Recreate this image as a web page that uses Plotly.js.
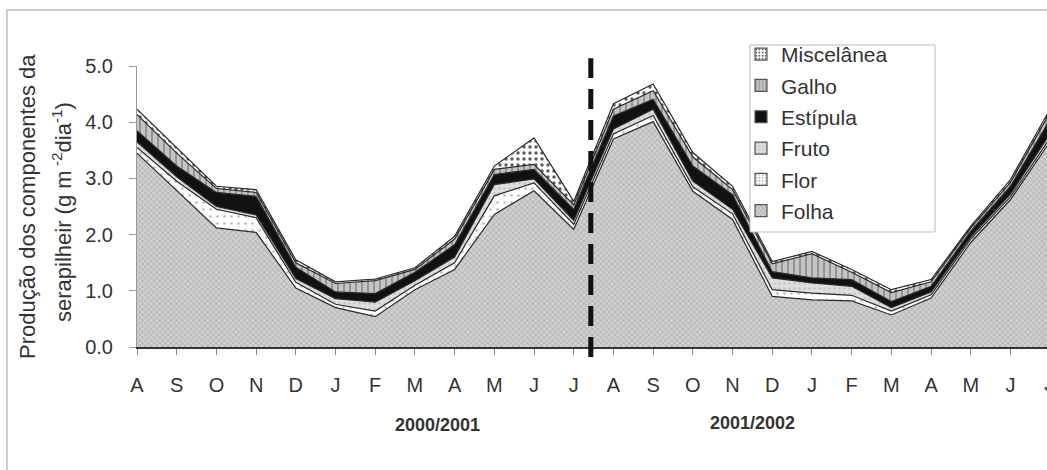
<!DOCTYPE html>
<html>
<head>
<meta charset="utf-8">
<script src="https://cdn.plot.ly/plotly-3.0.1.min.js"></script>
<style>html,body{margin:0;padding:0;background:#fff;}#chart{width:1047px;height:470px;}</style>
</head>
<body>
<div id="chart"></div>
<script>
// Month labels (Aug 2000 .. Jul 2002)
const months = ["A","S","O","N","D","J","F","M","A","M","J","J","A","S","O","N","D","J","F","M","A","M","J","J"];
const xIdx = months.map((m, i) => i);

// Component values (g m-2 dia-1)
const folha    = [3.45,2.78,2.12,2.04,1.05,0.70,0.54,1.02,1.38,2.36,2.78,2.09,3.70,4.01,2.77,2.27,0.90,0.84,0.82,0.57,0.87,1.86,2.62,3.66];
const flor     = [0.10,0.17,0.33,0.26,0.10,0.06,0.10,0.08,0.12,0.33,0.14,0.09,0.09,0.11,0.08,0.10,0.12,0.12,0.10,0.07,0.06,0.06,0.05,0.06];
const fruto    = [0.10,0.08,0.05,0.05,0.07,0.10,0.16,0.08,0.10,0.20,0.07,0.07,0.09,0.11,0.10,0.08,0.21,0.18,0.16,0.06,0.05,0.04,0.05,0.08];
const estipula = [0.20,0.19,0.25,0.33,0.20,0.12,0.15,0.15,0.22,0.18,0.17,0.20,0.23,0.18,0.27,0.26,0.11,0.09,0.12,0.11,0.10,0.10,0.14,0.25];
const galho    = [0.29,0.23,0.07,0.07,0.08,0.15,0.23,0.05,0.10,0.09,0.09,0.08,0.12,0.15,0.16,0.09,0.14,0.43,0.13,0.16,0.08,0.06,0.07,0.13];
const misc     = [0.09,0.10,0.04,0.05,0.05,0.03,0.03,0.03,0.05,0.06,0.47,0.06,0.10,0.12,0.08,0.06,0.04,0.04,0.05,0.05,0.04,0.03,0.05,0.06];

const seriesNames = ["Folha","Flor","Fruto","Estípula","Galho","Miscelânea"];
const yTickVals = [0,1,2,3,4,5];
const yTickText = ["0.0","1.0","2.0","3.0","4.0","5.0"];
const yearLabels = ["2000/2001","2001/2002"];
const yTitle1 = "Produção dos componentes da";
const yTitle2 = "serapilheir (g m<sup> -2</sup>dia<sup>-1</sup>)";

const styles = [
  {pattern:{shape:"x", bgcolor:"#cfcfcf", fgcolor:"#a2a2a2", size:4, solidity:0.25}},
  {pattern:{shape:".", bgcolor:"#ffffff", fgcolor:"#bdbdbd", size:7, solidity:0.12}},
  {pattern:{shape:".", bgcolor:"#dedede", fgcolor:"#c4c4c4", size:5, solidity:0.2}},
  {pattern:{shape:"", bgcolor:"#111111", fgcolor:"#111111"}, solid:"#111111"},
  {pattern:{shape:"|", bgcolor:"#c4c4c4", fgcolor:"#8f8f8f", size:6, solidity:0.3}},
  {pattern:{shape:".", bgcolor:"#ffffff", fgcolor:"#5a5a5a", size:6, solidity:0.25}}
];
const dataSets = [folha, flor, fruto, estipula, galho, misc];

const traces = [];
dataSets.forEach((vals, k) => {
  const st = styles[k];
  const t = {
    type: "scatter", mode: "lines", x: xIdx, y: vals,
    stackgroup: "one", name: seriesNames[k], showlegend: false,
    line: {color: "#2a2a2a", width: 1.2},
    hoverinfo: "skip"
  };
  if (st.solid) { t.fillcolor = st.solid; }
  else { t.fillpattern = Object.assign({fillmode:"replace"}, st.pattern); t.fillcolor = st.pattern.bgcolor; }
  traces.push(t);
});
// legend entries (square swatches), top entry first
for (let k = dataSets.length - 1; k >= 0; k--) {
  const st = styles[k];
  const mk = {color: st.solid || st.pattern.bgcolor, line:{color:"#555", width:1.2}};
  if (!st.solid) mk.pattern = {shape: st.pattern.shape, bgcolor: st.pattern.bgcolor, fgcolor: st.pattern.fgcolor, size: 4, solidity: 0.3, fillmode:"replace"};
  traces.push({type:"bar", x:[null], y:[null], name: seriesNames[k], legendgroup:"g"+k, marker: mk, showlegend:true, hoverinfo:"skip"});
}

const fontFam = "Liberation Sans, Arial, sans-serif";
const layout = {
  width: 1047, height: 470,
  margin: {l:137, r:0, t:66, b:123},
  paper_bgcolor: "#fff", plot_bgcolor: "#fff",
  font: {family: fontFam, color: "#333", size: 19},
  showlegend: true,
  legend: {
    x: (741-137)/910, y: (347-34)/281, xanchor: "left", yanchor: "top",
    bgcolor: "rgba(0,0,0,0)", borderwidth: 0,
    font: {size: 21, color: "#333", family: fontFam},
    traceorder: "grouped", tracegroupgap: 1, itemwidth: 30
  },
  xaxis: {
    range: [0, 22.92], tickmode: "array", tickvals: xIdx, ticktext: months,
    showgrid: false, zeroline: false, showline: true, linecolor: "#333", linewidth: 1.5,
    ticks: "outside", ticklen: 6, tickcolor: "#888", tickwidth: 1,
    ticklabelstandoff: 13, tickfont: {size: 20, color: "#333"}, fixedrange: true
  },
  yaxis: {
    range: [0, 5], tickmode: "array", tickvals: yTickVals, ticktext: yTickText,
    showgrid: false, zeroline: false, showline: true, linecolor: "#999", linewidth: 1,
    ticks: "outside", ticklen: 7, tickcolor: "#999", tickwidth: 1,
    ticklabelstandoff: 12, tickfont: {size: 20, color: "#333"}, fixedrange: true
  },
  shapes: [
    {type:"rect", xref:"paper", yref:"paper", x0:-0.1429, x1:1.02, y0:-0.46, y1:1.199,
     line:{color:"#cccccc", width:2}, fillcolor:"rgba(0,0,0,0)", layer:"below"},
    {type:"line", xref:"x", yref:"paper", x0:11.43, x1:11.43, y0:-0.036, y1:1.028,
     line:{color:"#111", width:5, dash:"20px,11px"}, layer:"above"},
    {type:"rect", xref:"paper", yref:"paper", x0:(750-137)/910, x1:(935-137)/910, y0:(347-232)/281, y1:(347-45)/281,
     line:{color:"#bbbbbb", width:1}, fillcolor:"#ffffff", layer:"above"}
  ],
  annotations: [
    {xref:"paper", yref:"paper", x:0.3297, y:(347-425)/281, xanchor:"center", yanchor:"middle", text:"<b>"+yearLabels[0]+"</b>", showarrow:false, font:{size:18, color:"#333"}},
    {xref:"paper", yref:"paper", x:0.676, y:(347-423)/281, xanchor:"center", yanchor:"middle", text:"<b>"+yearLabels[1]+"</b>", showarrow:false, font:{size:18, color:"#333"}},
    {xref:"paper", yref:"paper", x:(27-137)/910, y:(347-207)/281, xanchor:"center", yanchor:"middle", text:yTitle1, textangle:-90, showarrow:false, font:{size:22, color:"#333"}},
    {xref:"paper", yref:"paper", x:(62-137)/910, y:(347-212)/281, xanchor:"center", yanchor:"middle", text:yTitle2, textangle:-90, showarrow:false, font:{size:22, color:"#333"}},
    {xref:"paper", yref:"paper", x:(1049-137)/910, y:(347-384)/281, xanchor:"center", yanchor:"middle", text:months[23], showarrow:false, font:{size:20, color:"#333"}}
  ]
};

Plotly.newPlot("chart", traces, layout, {staticPlot:true, displayModeBar:false});
</script>
</body>
</html>
